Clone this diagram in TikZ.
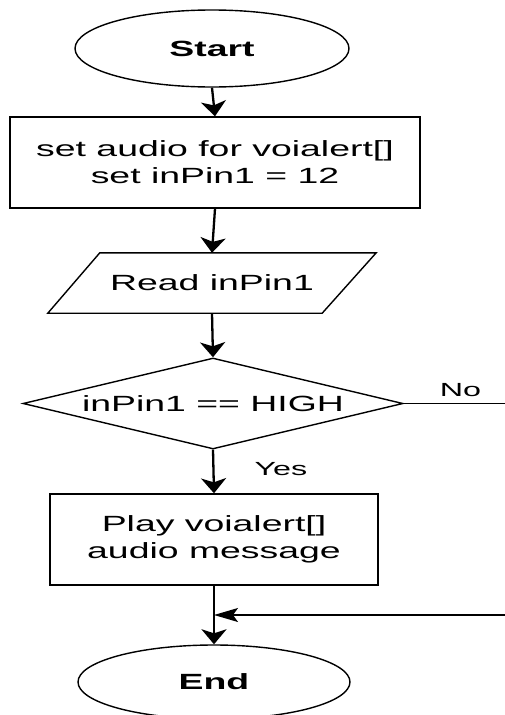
\documentclass[tikz,border=0pt]{standalone}
\usepackage{fontspec}
\setmainfont{Liberation Sans}[FakeStretch=1.7]
\usetikzlibrary{shapes.geometric,arrows.meta}
\begin{document}
\begin{tikzpicture}[x=1pt,y=-1pt,
  every node/.style={font=\fontsize{22}{27}\selectfont, align=center, inner sep=0pt},
  term/.style={ellipse, draw, line width=1.4pt},
  proc/.style={rectangle, draw, line width=1.4pt},
  dia/.style={diamond, draw, line width=1.4pt},
  vflow/.style={line width=2.3pt, -{Stealth[length=15pt,width=25pt,inset=4pt]}},
  hflow/.style={line width=1.3pt},
  lbl/.style={font=\fontsize{19}{22}\selectfont}
]
\useasboundingbox (0,0) rectangle (504,715);
\node[term, minimum width=274pt, minimum height=77pt] (start) at (212,48.5) {\bfseries Start};
\node[proc, minimum width=410pt, minimum height=91pt] (init) at (215,162.5) {set audio for voialert[]\\set inPin1 = 12};
\node[rectangle, minimum width=328pt, minimum height=60pt] (read) at (212,283) {Read inPin1};
\draw[line width=1.4pt] ([xshift=52pt]read.north west) -- (read.north east) -- ([xshift=-54pt]read.south east) -- (read.south west) -- cycle;
\node[dia, minimum width=380pt, minimum height=91pt] (dec) at (213,403.5) {};
\node at (dec.center) {inPin1 == HIGH};
\node[proc, minimum width=328pt, minimum height=91pt] (play) at (214,539.5) {Play voialert[]\\audio message};
\node[term, minimum width=272pt, minimum height=74pt] (end) at (214,682) {\bfseries End};
\coordinate (noR) at (530,403.5);
\coordinate (retR) at (530,615);
\coordinate (merge) at (214,615);
\draw[vflow] (start.south) -- (init.north);
\draw[vflow] (init.south) -- (read.north);
\draw[vflow] (read.south) -- (dec.north);
\draw[vflow] (dec.south) -- node[lbl, right, xshift=40pt, yshift=-2pt, pos=0.4] {Yes} (play.north);
\draw[vflow] (play.south) -- (end.north);
\draw[hflow] (dec.east) -- node[lbl, above, pos=0.45, yshift=6pt] {No} (noR) -- (retR);
\draw[hflow, -{Stealth[length=24pt,width=14pt,inset=5pt]}] (retR) -- (merge);
\end{tikzpicture}
\end{document}
